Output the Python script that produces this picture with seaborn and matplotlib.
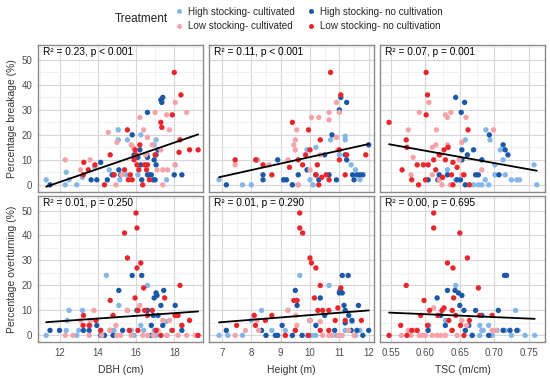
import matplotlib
matplotlib.use("Agg")
import matplotlib.pyplot as plt
from matplotlib.lines import Line2D
from matplotlib.ticker import MultipleLocator
import seaborn as sns
import pandas as pd

# ---------------- data ----------------
groups = ["High stocking- cultivated", "Low stocking- cultivated",
          "High stocking- no cultivation", "Low stocking- no cultivation"]
colors = ["#84b6e8", "#f6a3a8", "#1c58a8", "#e8262b"]

# Panel DBH vs breakage
dbh_brk_HC = [(11.3,2),(12.35,5),(12.3,0),(12.5,2),(12.9,0),(13.2,3),(13.85,7),(14.6,6),(15.07,22),(15.07,18),(15.55,18),(15.5,4),(14.85,4),(15.15,2),(16.25,20),(17.05,18),(16.95,16),(17.6,2),(18.05,8),(16.6,12),(16.1,4)]
dbh_brk_HN = [(11.5,0),(13.65,2),(13.95,2),(14.15,9),(14.5,2),(14.75,4),(15.1,6),(15.2,4),(15.8,20),(15.9,12),(16.1,11),(16.2,14),(16.3,2),(16.6,4),(16.7,4),(16.8,4),(16.9,2),(17.0,2),(16.6,29),(17.05,12),(17.05,8),(17.15,14),(17.3,34),(17.4,35),(17.35,33),(18.0,4),(18.4,4),(16.95,10),(16.6,11),(16.25,8)]
dbh_brk_LN = [(13.27,9),(13.23,4),(13.5,6),(13.85,8),(14.35,0),(14.65,12),(14.85,4),(15.4,6),(15.55,22),(15.6,2),(15.7,4),(15.8,2),(15.95,14),(16.0,12),(16.05,8),(16.15,6),(16.2,16),(16.35,0),(16.45,8),(16.55,6),(16.6,8),(16.7,2),(17.3,25),(17.35,23),(17.9,28),(18.0,45),(18.25,13),(18.3,18),(18.35,36),(18.8,14),(19.25,14),(17.0,12),(15.9,10)]
dbh_brk_LC = [(12.3,10),(13.1,6),(13.6,10),(13.25,4),(14.55,21),(15.0,17),(14.95,0),(15.25,4),(15.75,16),(15.85,15),(16.2,27),(16.4,22),(16.6,19),(16.85,16),(17.0,29),(17.3,14),(17.4,6),(17.4,0),(17.6,28),(17.75,22),(17.65,6),(18.05,33),(18.05,8),(18.65,29),(17.1,6),(16.5,12)]

# Panel Height vs breakage
hgt_brk_HC = [(6.9,2),(7.7,0),(8.0,0),(9.1,2),(9.4,0),(9.6,0),(9.9,14),(10.0,2),(10.1,0),(10.2,15),(10.7,18),(10.9,19),(11.2,18),(11.2,19.5),(11.4,8),(11.55,6),(11.0,12),(11.7,2)]
hgt_brk_HN = [(7.15,0),(8.2,10),(8.4,4),(8.4,2),(8.9,10),(9.1,2),(9.2,2),(9.4,0),(9.6,4),(9.9,6),(10.2,4),(10.3,2),(10.5,12),(10.65,4),(10.75,20),(10.9,2),(11.0,30),(11.2,12),(11.25,33),(11.25,10),(11.45,4),(11.6,4),(11.7,4),(12.0,16),(11.05,35),(11.5,2),(11.8,4)]
hgt_brk_LN = [(7.45,10),(8.15,10),(8.4,8),(8.7,4),(9.3,7),(9.4,25),(9.6,10),(9.75,8),(9.85,12),(9.95,22),(10.0,14),(10.2,4),(10.3,0),(10.35,18),(10.4,3),(10.55,4),(10.65,2),(10.7,45),(11.0,14),(11.0,10),(11.05,36),(11.25,12),(11.9,12),(10.25,8),(11.2,4)]
hgt_brk_LC = [(7.45,8),(8.2,10),(8.6,8),(9.25,10),(9.5,18),(9.55,22),(9.45,16),(9.5,14),(10.05,27),(10.3,27),(10.65,29),(10.65,26),(10.9,33),(11.0,29),(10.9,19),(10.95,14),(10.35,12),(10.0,6),(9.6,0)]

# Panel TSC vs breakage
tsc_brk_LN = [(0.547,25),(0.572,18),(0.573,15),(0.566,6),(0.588,8),(0.597,8),(0.601,45),(0.603,36),(0.601,28),(0.604,8),(0.612,10),(0.615,6),(0.62,12),(0.627,14),(0.633,15),(0.629,10),(0.625,3),(0.638,4),(0.64,0),(0.646,7),(0.656,4),(0.662,22),(0.664,0),(0.64,9),(0.58,2),(0.59,0),(0.6,2)]
tsc_brk_LC = [(0.575,22),(0.582,11),(0.579,4),(0.591,29),(0.605,33),(0.61,15),(0.616,22),(0.615,16),(0.622,12),(0.624,0),(0.629,28),(0.637,29),(0.632,27),(0.632,16),(0.636,0),(0.649,10),(0.653,17),(0.659,27),(0.653,4),(0.699,22),(0.682,6),(0.62,2),(0.61,4)]
tsc_brk_HC = [(0.632,6),(0.644,2),(0.658,18),(0.67,0),(0.677,0),(0.682,0),(0.688,22),(0.694,18),(0.701,8),(0.709,14),(0.713,10),(0.716,4),(0.725,2),(0.733,2),(0.737,2),(0.758,8),(0.762,0),(0.692,0),(0.701,4),(0.687,2)]
tsc_brk_HN = [(0.644,35),(0.657,33),(0.652,29),(0.653,14),(0.653,10),(0.62,4),(0.604,2),(0.618,2),(0.632,4),(0.646,2),(0.651,2),(0.661,12),(0.67,14),(0.673,4),(0.677,4),(0.682,10),(0.693,20),(0.707,4),(0.713,16),(0.716,14),(0.72,12),(0.658,0)]

# Panel DBH vs overturning
dbh_ovt_HC = [(11.3,0),(12.35,2),(12.4,6),(12.5,10),(12.9,0),(13.2,10),(13.6,4),(14.15,2),(14.45,24),(15.1,12),(14.85,2),(15.55,10),(15.75,2),(16.25,4),(16.6,20),(16.95,2),(17.05,0),(17.6,0),(17.85,2),(18.4,4),(17.55,5.5),(15.9,0),(16.4,2),(13.0,2)]
dbh_ovt_HN = [(11.5,2),(13.25,2),(13.55,2),(13.95,4),(14.15,0),(14.35,0),(14.65,2),(14.8,0),(15.1,18),(15.3,2),(15.8,24),(16.05,10),(16.3,24),(16.6,10),(16.8,4),(16.9,8),(16.95,15),(17.05,17),(17.1,16),(17.3,12),(17.4,4),(17.45,18),(17.15,8),(18.05,12),(18.4,2),(16.8,0),(12.0,2)]
dbh_ovt_LN = [(13.25,8),(13.23,4),(13.55,4),(13.9,6),(14.15,2),(14.65,14),(14.8,8),(15.4,41),(15.55,31),(15.65,2),(15.95,15),(16.0,49),(16.05,43),(16.05,27),(16.25,29),(16.1,10),(16.1,2),(16.4,19),(16.45,10),(16.6,8),(16.85,10),(17.05,2),(17.3,0),(17.5,15),(17.9,2),(18.05,8),(18.3,20),(18.4,4),(18.8,6),(19.25,0),(18.2,8)]
dbh_ovt_LC = [(12.3,0),(13.1,6),(13.55,0),(13.6,6),(13.8,10),(14.65,2),(14.95,4),(15.2,0),(15.55,10),(15.75,0),(16.2,12),(16.35,0),(16.6,0),(16.9,0),(17.15,2),(17.4,6),(17.63,0),(17.75,6),(18.05,8),(18.2,0),(18.65,0),(19.1,0),(14.2,0),(15.0,0),(12.7,0)]

# Panel Height vs overturning
hgt_ovt_HC = [(6.9,0),(7.7,0),(8.0,6),(8.35,10),(8.7,2),(9.16,2),(9.25,10),(9.5,2),(9.65,24),(9.9,0),(10.07,0),(10.2,0),(10.65,20),(10.9,0),(11.2,2),(11.55,0),(11.43,5.5),(11.7,2),(7.2,0)]
hgt_ovt_HN = [(7.15,2),(8.35,2),(8.82,0),(8.9,0),(9.05,4),(9.4,0),(9.5,18),(9.56,12),(9.73,0),(10.0,6),(10.2,4),(10.35,15),(10.5,8),(10.84,2),(11.0,17),(11.1,17),(11.1,24),(11.3,24),(11.16,12),(11.2,10),(11.32,8),(11.43,6),(11.65,12),(12.0,2),(11.2,5),(11.03,18),(11.6,2),(11.8,0),(11.4,2),(8.5,0)]
hgt_ovt_LN = [(7.5,4),(8.1,8),(8.14,4),(8.48,6),(8.7,8),(9.16,0),(9.45,14),(9.56,14),(9.5,2),(9.65,49),(9.65,43),(9.75,41),(10.0,31),(10.05,29),(10.2,27),(10.15,15),(10.27,10),(10.35,20),(10.35,2),(10.43,10),(10.64,10),(10.64,2),(10.86,6),(10.95,11),(11.05,19),(11.2,6),(11.75,6),(9.95,0)]
hgt_ovt_LC = [(7.45,0),(8.2,6),(8.25,2),(9.25,10),(9.16,0),(9.55,4),(9.52,8),(10.0,6),(10.43,0),(10.64,0),(10.75,0),(10.98,0),(11.32,2),(10.35,5.5),(11.1,0),(11.5,0),(7.8,2)]

# Panel TSC vs overturning
tsc_ovt_LN = [(0.547,0),(0.564,4),(0.572,20),(0.573,0),(0.588,2),(0.593,8),(0.598,14),(0.603,4),(0.606,10),(0.612,49),(0.612,43),(0.618,8),(0.624,10),(0.627,11),(0.632,29),(0.634,6),(0.64,27),(0.641,15),(0.639,10),(0.644,8),(0.65,41),(0.651,4),(0.656,0),(0.661,31),(0.664,6),(0.677,19),(0.679,8),(0.697,8),(0.639,2),(0.58,2)]
tsc_ovt_LC = [(0.575,2),(0.579,0),(0.591,0),(0.6,0),(0.612,11),(0.61,0),(0.617,0),(0.622,0),(0.629,0),(0.638,2),(0.646,0),(0.653,6),(0.66,4),(0.697,2),(0.702,2),(0.565,0),(0.585,2),(0.595,0)]
tsc_ovt_HC = [(0.605,4),(0.629,6),(0.644,20),(0.658,2),(0.679,4),(0.684,2),(0.692,4),(0.697,0),(0.704,2),(0.716,2),(0.731,10),(0.735,2),(0.759,0),(0.668,0),(0.679,0),(0.682,2),(0.745,0),(0.725,0)]
tsc_ovt_HN = [(0.604,2),(0.617,15),(0.622,8),(0.629,4),(0.632,18),(0.643,18),(0.648,17),(0.653,16),(0.65,12),(0.656,10),(0.658,2),(0.663,4),(0.668,0),(0.673,10),(0.682,8),(0.692,0),(0.706,10),(0.713,2),(0.715,24),(0.718,24),(0.723,2),(0.733,2)]

annotations = ["R² = 0.23, p < 0.001", "R² = 0.11, p < 0.001", "R² = 0.07, p = 0.001",
               "R² = 0.01, p = 0.250", "R² = 0.01, p = 0.290", "R² = 0.00, p = 0.695"]
x_labels = ["DBH (cm)", "Height (m)", "TSC (m/cm)"]
y_labels = ["Percentage breakage (%)", "Percentage overturning (%)"]
x_ticks = [[12, 14, 16, 18], [7, 8, 9, 10, 11, 12], [0.55, 0.60, 0.65, 0.70, 0.75]]
x_ticklabels = [["12", "14", "16", "18"], ["7", "8", "9", "10", "11", "12"],
                ["0.55", "0.60", "0.65", "0.70", "0.75"]]
y_ticks = [0, 10, 20, 30, 40, 50]

panels = [
    [dbh_brk_HC, dbh_brk_LC, dbh_brk_HN, dbh_brk_LN],
    [hgt_brk_HC, hgt_brk_LC, hgt_brk_HN, hgt_brk_LN],
    [tsc_brk_HC, tsc_brk_LC, tsc_brk_HN, tsc_brk_LN],
    [dbh_ovt_HC, dbh_ovt_LC, dbh_ovt_HN, dbh_ovt_LN],
    [hgt_ovt_HC, hgt_ovt_LC, hgt_ovt_HN, hgt_ovt_LN],
    [tsc_ovt_HC, tsc_ovt_LC, tsc_ovt_HN, tsc_ovt_LN],
]

# ---------------- layout / style ----------------
xlims = [(10.87, 19.5), (6.56, 12.18), (0.534, 0.774)]
xminor = [1, 0.5, 0.025]
ylim = (-2.7, 56.0)

sns.set_theme(style="white")
plt.rcParams["font.family"] = ["Liberation Sans", "DejaVu Sans"]

fig, axes = plt.subplots(2, 3, figsize=(5.5, 3.81), dpi=100)
fig.subplots_adjust(left=0.069, right=0.991, top=0.882, bottom=0.102,
                    wspace=0.037, hspace=0.027)

draw_order = [0, 2, 1, 3]
for i, ax in enumerate(axes.flat):
    r, c = divmod(i, 3)
    rows = []
    for gi in draw_order:
        for (xv, yv) in panels[i][gi]:
            rows.append({"x": xv, "y": yv, "g": groups[gi]})
    df = pd.DataFrame(rows)
    sns.scatterplot(data=df, x="x", y="y", hue="g", hue_order=groups,
                    palette=colors, s=15, linewidth=0, legend=False, ax=ax, zorder=3)
    sns.regplot(data=df, x="x", y="y", scatter=False, ci=None, color="black",
                line_kws=dict(lw=1.3, zorder=4), ax=ax)
    ax.set_xlim(*xlims[c])
    ax.set_ylim(*ylim)
    ax.set_xticks(x_ticks[c])
    ax.set_yticks(y_ticks)
    ax.xaxis.set_minor_locator(MultipleLocator(xminor[c]))
    ax.yaxis.set_minor_locator(MultipleLocator(5))
    ax.grid(which="major", color="#d6d6d6", lw=0.8)
    ax.grid(which="minor", color="#ebebeb", lw=0.5)
    ax.set_axisbelow(True)
    for sp in ax.spines.values():
        sp.set_color("#8a8a8a")
        sp.set_linewidth(1.0)
    ax.tick_params(which="minor", length=0)
    ax.tick_params(which="major", length=2.5, width=0.6, color="#b3b3b3",
                   labelsize=7, labelcolor="#4d4d4d", pad=1.5)
    if r == 1:
        ax.set_xticklabels(x_ticklabels[c])
        ax.set_xlabel(x_labels[c], fontsize=7.5, color="#333333", labelpad=5)
    else:
        ax.set_xticklabels([])
        ax.set_xlabel("")
        ax.tick_params(axis="x", length=0)
    if c == 0:
        ax.set_yticklabels([str(v) for v in y_ticks])
        ax.set_ylabel(y_labels[r], fontsize=7.5, color="#333333", labelpad=3)
    else:
        ax.set_yticklabels([])
        ax.set_ylabel("")
        ax.tick_params(axis="y", length=0)
    ax.text(0.03, 0.985, annotations[i], transform=ax.transAxes, ha="left", va="top",
            fontsize=7.3, color="black")

# legend
fig.text(115 / 550, 1 - 19 / 381, "Treatment", fontsize=8.5, color="#222222",
         ha="left", va="center")
handles = [Line2D([], [], marker="o", ls="none", markersize=3.6, markeredgewidth=0,
                  markerfacecolor=col) for col in colors]
fig.legend(handles, groups, ncol=2, loc="center left",
           bbox_to_anchor=(174 / 550, 1 - 19 / 381), frameon=False, fontsize=7.1,
           handlelength=1.0, handletextpad=0.4, columnspacing=1.2,
           labelspacing=0.5, borderpad=0, borderaxespad=0)

fig.savefig("out.png", dpi=100)
